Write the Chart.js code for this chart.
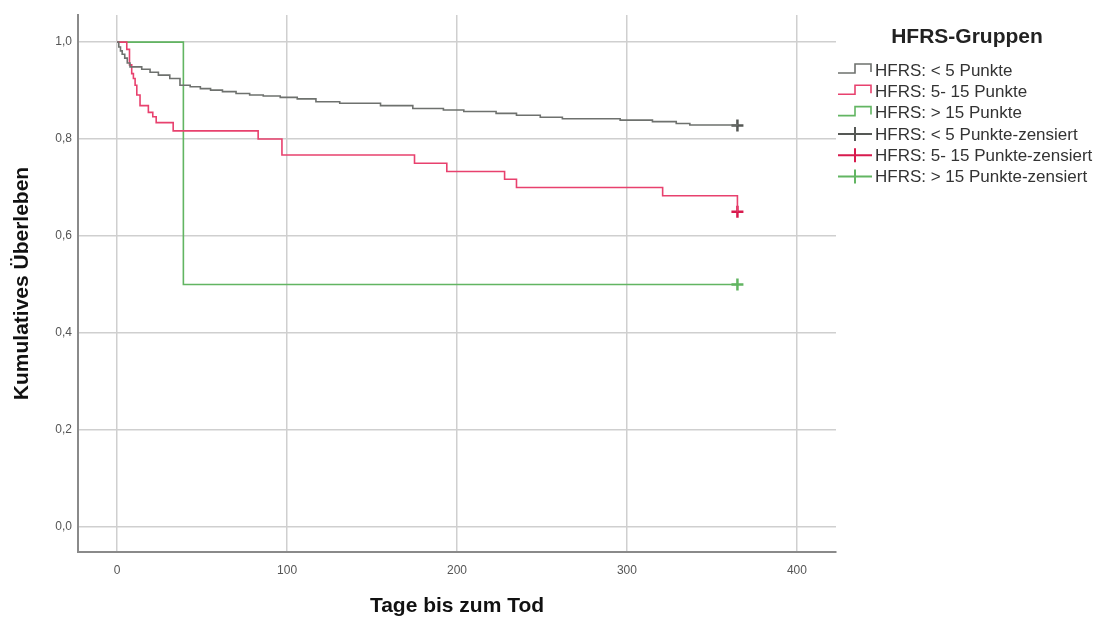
<!DOCTYPE html>
<html>
<head>
<meta charset="utf-8">
<script src="https://cdn.jsdelivr.net/npm/chart.js@4"></script>
<style>
  body { margin: 0; background: #fff; }
  #wrap { width: 1099px; height: 619px; }
</style>
</head>
<body>
<div id="wrap"><canvas id="km" width="1099" height="619"></canvas></div>
<script>
const groups = ['HFRS: < 5 Punkte', 'HFRS: 5- 15 Punkte', 'HFRS: > 15 Punkte'];

const grayDays = [0, 1, 2, 3, 4.5, 6, 7.6, 14.5, 19.4, 24.3, 31, 37, 43, 49, 55, 62, 70, 78, 86, 96, 106, 117, 131, 155, 174, 192, 204, 223, 235, 249, 262, 296, 315, 329, 337, 365];
const graySurv = [1.0, 0.99, 0.982, 0.975, 0.967, 0.957, 0.949, 0.944, 0.938, 0.932, 0.925, 0.911, 0.908, 0.904, 0.901, 0.898, 0.894, 0.891, 0.889, 0.886, 0.883, 0.877, 0.874, 0.869, 0.863, 0.860, 0.857, 0.853, 0.849, 0.845, 0.842, 0.839, 0.836, 0.832, 0.829, 0.828];

const redDays = [0, 5.7, 7.3, 8.6, 9.6, 10.6, 11.6, 13.5, 18.4, 21, 23, 33, 83, 97, 175, 194, 228, 235, 321, 365];
const redSurv = [1.0, 0.985, 0.953, 0.935, 0.925, 0.911, 0.891, 0.869, 0.855, 0.846, 0.834, 0.817, 0.8, 0.767, 0.75, 0.733, 0.717, 0.70, 0.683, 0.65];

const greenDays = [0, 39, 365];
const greenSurv = [1.0, 0.5, 0.5];

// censored cases (end of follow-up)
const censorDays = [365, 365, 365];
const censorSurv = [0.828, 0.65, 0.5];

const xTicks = [0, 100, 200, 300, 400];
const yTicks = [0, 0.2, 0.4, 0.6, 0.8, 1.0];

const lineColors = ['#6e716e', '#e8416e', '#62b562'];
const censorColors = ['#555855', '#d81b4e', '#62b562'];

const FONT = "'Liberation Sans', Arial, sans-serif";

function pts(days, surv) {
    return days.map((d, i) => ({ x: d, y: surv[i] }));
}

function curve(label, days, surv, color) {
    return {
        label: label,
        data: pts(days, surv),
        borderColor: color,
        borderWidth: 1.6,
        stepped: true,
        pointRadius: 0,
        fill: false
    };
}

const legendPlugin = {
    id: 'kmLegend',
    afterDraw(chart) {
        const c = chart.ctx;
        c.save();
        c.fillStyle = '#222';
        c.font = 'bold 21px ' + FONT;
        c.textAlign = 'center';
        c.textBaseline = 'middle';
        c.fillText('HFRS-Gruppen', 967, 37);

        c.font = '17px ' + FONT;
        c.textAlign = 'left';
        const labels = groups.concat(groups.map(g => g + '-zensiert'));
        labels.forEach((txt, i) => {
            const y = 70 + i * 21.3;
            c.lineWidth = 1.6;
            if (i < 3) {
                c.strokeStyle = lineColors[i];
                c.beginPath();
                c.moveTo(838, y + 3);
                c.lineTo(855, y + 3);
                c.lineTo(855, y - 6);
                c.lineTo(871, y - 6);
                c.lineTo(871, y + 2);
                c.stroke();
            } else {
                c.strokeStyle = censorColors[i - 3];
                c.lineWidth = 2;
                c.beginPath();
                c.moveTo(838, y);
                c.lineTo(872, y);
                c.moveTo(855, y - 7);
                c.lineTo(855, y + 7);
                c.stroke();
            }
            c.fillStyle = '#333';
            c.fillText(txt, 875, y + 1);
        });
        c.restore();
    }
};

new Chart(document.getElementById('km'), {
    type: 'line',
    data: {
        datasets: [
            curve(groups[0], grayDays, graySurv, lineColors[0]),
            curve(groups[1], redDays, redSurv, lineColors[1]),
            curve(groups[2], greenDays, greenSurv, lineColors[2]),
            {
                label: 'zensiert',
                type: 'scatter',
                data: pts(censorDays, censorSurv),
                pointStyle: 'cross',
                pointRadius: 6,
                pointBorderWidth: 2.5,
                pointBorderColor: censorColors,
                pointBackgroundColor: censorColors
            }
        ]
    },
    options: {
        responsive: false,
        animation: false,
        layout: { padding: { top: 15, right: 263, left: 0, bottom: 0 } },
        plugins: {
            legend: { display: false },
            tooltip: { enabled: false }
        },
        scales: {
            x: {
                type: 'linear',
                min: -23,
                max: 423,
                afterBuildTicks: s => { s.ticks = xTicks.map(v => ({ value: v })); },
                afterFit: s => { s.height = 67; },
                grid: { color: '#cfcfcf', lineWidth: 1.5, drawTicks: false },
                border: { display: true, color: '#8a8a8a', width: 2 },
                ticks: { padding: 11, color: '#555', font: { family: FONT, size: 12 } },
                title: {
                    display: true,
                    text: 'Tage bis zum Tod',
                    color: '#111',
                    padding: { top: 0, bottom: 0 },
                    font: { family: FONT, size: 21, weight: 'bold' }
                }
            },
            y: {
                type: 'linear',
                min: -0.052,
                max: 1.056,
                afterBuildTicks: s => { s.ticks = yTicks.map(v => ({ value: v })); },
                afterFit: s => { s.width = 78; },
                grid: { color: '#cfcfcf', lineWidth: 1.5, drawTicks: false },
                border: { display: true, color: '#8a8a8a', width: 2 },
                ticks: {
                    padding: 6,
                    color: '#555',
                    font: { family: FONT, size: 12 },
                    callback: v => v.toFixed(1).replace('.', ',')
                },
                title: {
                    display: true,
                    text: 'Kumulatives Überleben',
                    color: '#111',
                    padding: { top: 10, bottom: 0 },
                    font: { family: FONT, size: 21, weight: 'bold' }
                }
            }
        }
    },
    plugins: [legendPlugin]
});
</script>
</body>
</html>
